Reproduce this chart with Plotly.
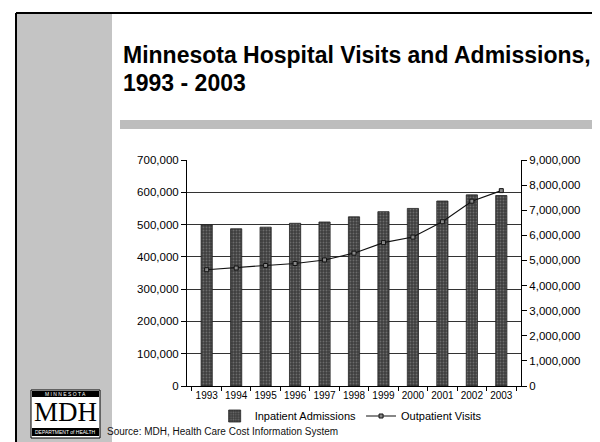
"""
Minnesota hospital visits and admissions chart.
"""

import plotly.graph_objects as go

years = ["1993", "1994", "1995", "1996", "1997", "1998",
         "1999", "2000", "2001", "2002", "2003"]
inpatient_admissions = [499000, 487000, 492000, 504000, 508000, 524000,
                        540000, 550000, 573000, 592000, 590000]
outpatient_visits = [4630000, 4700000, 4800000, 4880000, 5020000, 5290000,
                     5710000, 5930000, 6540000, 7360000, 7780000]

WIDTH, HEIGHT = 600, 442
PLOT_L, PLOT_R, PLOT_T, PLOT_B = 179, 513, 152, 378
FONT = "Liberation Sans, Arial, sans-serif"


def px_x(px):
    return (px - PLOT_L) / (PLOT_R - PLOT_L)


def px_y(py):
    return (PLOT_B - py) / (PLOT_B - PLOT_T)


def rect(fig, x0, y0, x1, y1, fill, line_color=None, line_width=0):
    fig.add_shape(
        type="rect", xref="paper", yref="paper", layer="below",
        x0=px_x(x0), x1=px_x(x1), y0=px_y(y0), y1=px_y(y1),
        fillcolor=fill,
        line={"color": line_color or fill, "width": line_width},
    )


def text(fig, px, py, s, size, color="black", family=FONT, xanchor="left"):
    fig.add_annotation(
        xref="paper", yref="paper", x=px_x(px), y=px_y(py),
        text=s, showarrow=False, xanchor=xanchor, yanchor="middle",
        align="left", font={"family": family, "size": size, "color": color},
    )


fig = go.Figure()

fig.add_trace(
    go.Bar(
        x=years,
        y=inpatient_admissions,
        name="Inpatient Admissions",
        marker={
            "color": "#505050",
            "line": {"color": "#222222", "width": 0.8},
            "pattern": {"shape": ".", "fgcolor": "#9a9a9a",
                        "bgcolor": "#3e3e3e", "size": 3, "solidity": 0.3},
        },
    )
)

fig.add_trace(
    go.Scatter(
        x=years,
        y=outpatient_visits,
        name="Outpatient Visits",
        yaxis="y2",
        mode="lines+markers",
        line={"color": "#111111", "width": 1.1},
        marker={"symbol": "square", "size": 4, "color": "#888888",
                "line": {"color": "#111111", "width": 1}},
    )
)

# slide decoration
rect(fig, 8, 5, 104, HEIGHT, "#c4c4c4")
fig.add_shape(type="line", xref="paper", yref="paper",
              x0=px_x(8), x1=px_x(8), y0=px_y(5), y1=px_y(HEIGHT),
              line={"color": "black", "width": 2})
fig.add_shape(type="line", xref="paper", yref="paper",
              x0=px_x(8), x1=px_x(WIDTH), y0=px_y(5), y1=px_y(5),
              line={"color": "black", "width": 2})
rect(fig, 112, 112, WIDTH, 121, "#bdbdbd")

# MDH logo
rect(fig, 23, 382, 92, 430, "white", "black", 1)
rect(fig, 24, 383, 91, 389, "black")
rect(fig, 24, 420, 91, 428, "black")
text(fig, 57.5, 386, "M I N N E S O T A", 5, "white", xanchor="center")
text(fig, 57.5, 404, "MDH", 27, "black",
     family="Liberation Serif, Times New Roman, serif", xanchor="center")
text(fig, 57.5, 424, "DEPARTMENT of HEALTH", 5, "white", xanchor="center")

text(fig, 113, 47, "<b>Minnesota Hospital Visits and Admissions,</b>", 23)
text(fig, 113, 75, "<b>1993 - 2003</b>", 23)
text(fig, 97, 423, "Source: MDH, Health Care Cost Information System", 10,
     "#111111")

fig.update_layout(
    width=WIDTH,
    height=HEIGHT,
    autosize=False,
    margin={"l": PLOT_L, "r": WIDTH - PLOT_R, "t": PLOT_T,
            "b": HEIGHT - PLOT_B, "pad": 0},
    paper_bgcolor="white",
    plot_bgcolor="white",
    font={"family": FONT, "size": 11.5, "color": "black"},
    bargap=0.62,
    showlegend=True,
    legend={
        "orientation": "h",
        "x": 0.49,
        "xanchor": "center",
        "y": px_y(408),
        "yanchor": "middle",
        "font": {"size": 11},
        "itemwidth": 30,
        "tracegroupgap": 0,
        "bgcolor": "rgba(0,0,0,0)",
    },
    xaxis={
        "type": "category",
        "showline": True,
        "linecolor": "black",
        "linewidth": 1,
        "ticks": "outside",
        "ticklen": 4,
        "tickcolor": "black",
        "tickson": "boundaries",
        "tickangle": 0,
        "tickfont": {"size": 10},
        "showgrid": False,
    },
    yaxis={
        "range": [0, 700000],
        "dtick": 100000,
        "tickformat": ",d",
        "showline": True,
        "linecolor": "black",
        "linewidth": 1,
        "ticks": "outside",
        "ticklen": 5,
        "tickcolor": "black",
        "showgrid": True,
        "gridcolor": "#333333",
        "gridwidth": 1,
        "zeroline": False,
    },
    yaxis2={
        "overlaying": "y",
        "side": "right",
        "range": [0, 9000000],
        "dtick": 1000000,
        "tickformat": ",d",
        "showline": True,
        "linecolor": "black",
        "linewidth": 1,
        "ticks": "outside",
        "ticklen": 5,
        "tickcolor": "black",
        "showgrid": False,
        "zeroline": False,
    },
)

fig.write_html("out.html")
